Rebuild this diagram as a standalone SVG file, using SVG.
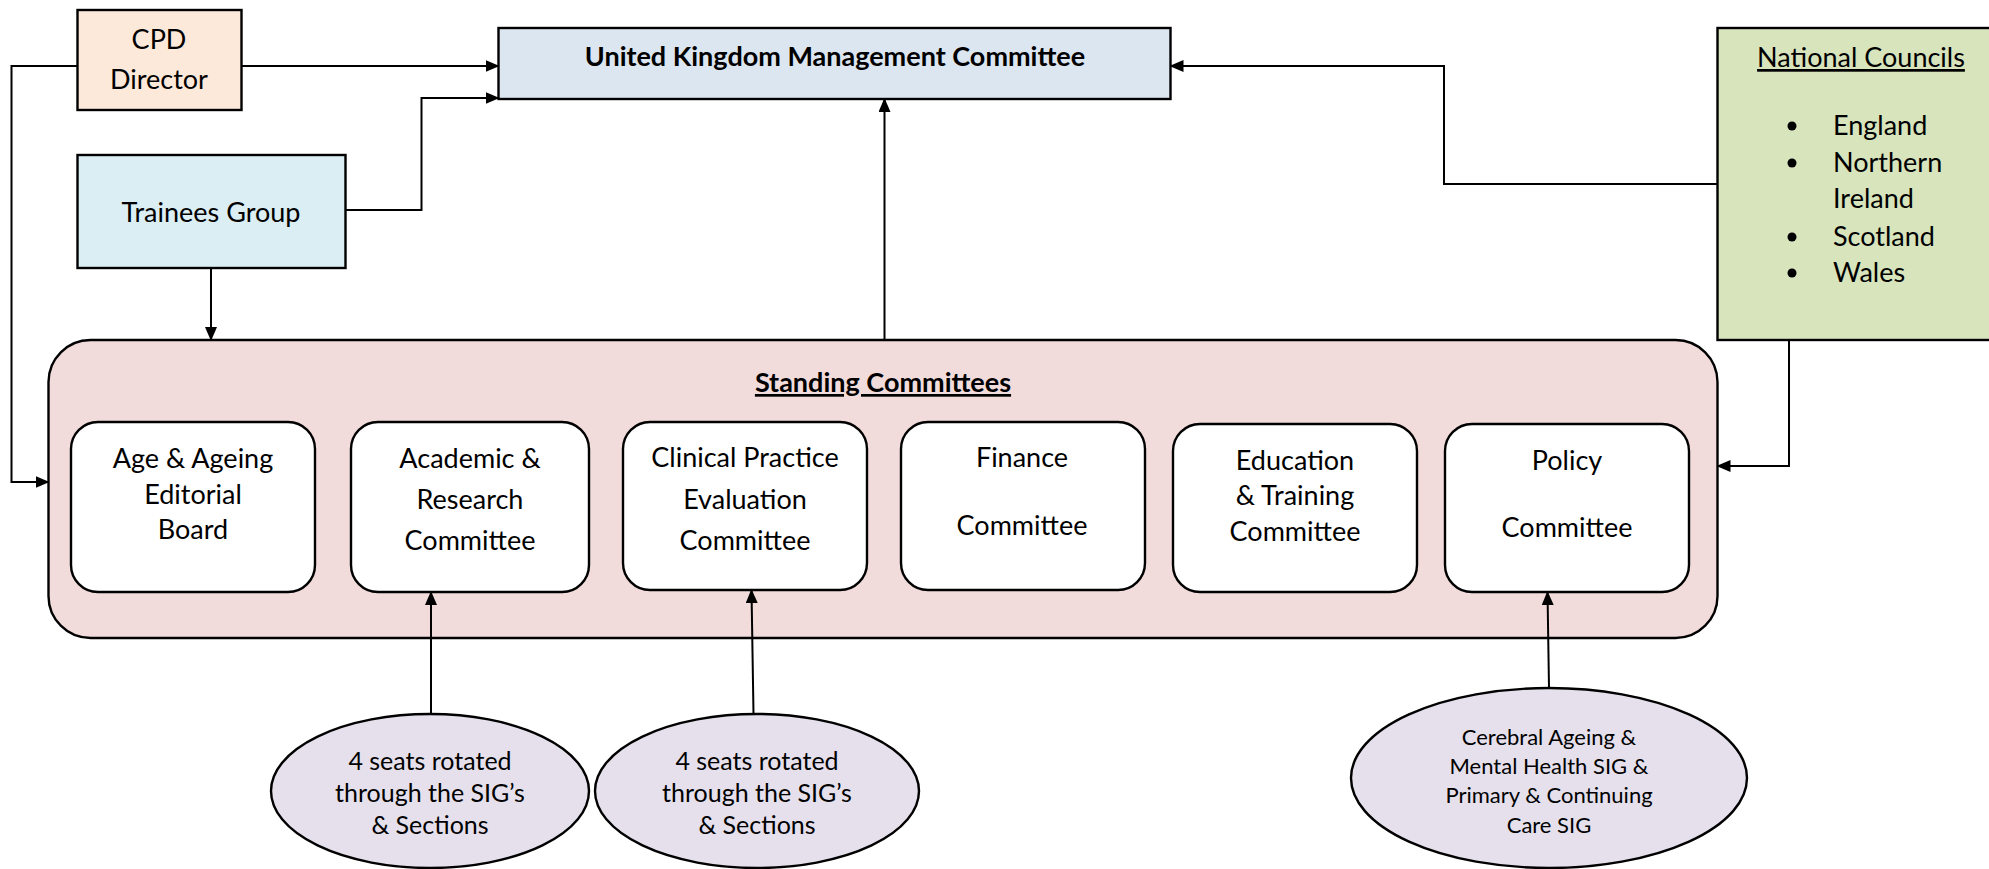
<svg xmlns="http://www.w3.org/2000/svg" width="1989" height="869" viewBox="0 0 1989 869">
  <style>
    .box { stroke: #000; stroke-width: 2.4; }
    .t { font-family: Lato, "Liberation Sans", sans-serif; font-size: 27px; fill: #000; text-anchor: middle; }
    .tl { font-family: Lato, "Liberation Sans", sans-serif; font-size: 27px; fill: #000; }
    .b { font-weight: bold; }
    .u { text-decoration: underline; }
    .s { font-size: 25px; }
    .xs { font-size: 22px; }
    .conn { fill: none; stroke: #000; stroke-width: 2; marker-end: url(#arrow); }
    .plain { fill: none; stroke: #000; stroke-width: 2; }
  </style>
  <defs>
    <marker id="arrow" markerUnits="userSpaceOnUse" markerWidth="14" markerHeight="12" refX="13" refY="6" orient="auto">
      <path d="M0,0 L14,6 L0,12 z" fill="#000"/>
    </marker>
  </defs>
  <rect width="1989" height="869" fill="#fff"/>

  <!-- Standing committees container (drawn first so connectors sit on top) -->
  <g id="standing-committees">
    <rect class="box" x="48.5" y="340" width="1669" height="298" rx="42" ry="42" fill="#F2DCDB"/>
    <text class="t b u" x="883" y="392">Standing Committees</text>
  </g>

  <g id="cpd-director">
    <rect class="box" x="77.5" y="10" width="164" height="100" fill="#FDE9D9"/>
    <text class="t" x="159" y="49">CPD</text>
    <text class="t" x="159" y="89">Director</text>
  </g>

  <g id="trainees-group">
    <rect class="box" x="77.5" y="155" width="268" height="113" fill="#DAEEF3"/>
    <text class="t" x="211" y="222">Trainees Group</text>
  </g>

  <g id="uk-management-committee">
    <rect class="box" x="498.5" y="28" width="672" height="71" fill="#DCE6F1"/>
    <text class="t b" x="835" y="66">United Kingdom Management Committee</text>
  </g>

  <g id="national-councils">
    <rect class="box" x="1717.5" y="28" width="290" height="312" fill="#D7E4BC"/>
    <text class="t u" x="1861" y="67">National Councils</text>
    <g fill="#000">
      <circle cx="1792" cy="126" r="4.5"/>
      <circle cx="1792" cy="163" r="4.5"/>
      <circle cx="1792" cy="237" r="4.5"/>
      <circle cx="1792" cy="273" r="4.5"/>
    </g>
    <text class="tl" x="1833" y="135">England</text>
    <text class="tl" x="1833" y="172">Northern</text>
    <text class="tl" x="1833" y="208">Ireland</text>
    <text class="tl" x="1833" y="246">Scotland</text>
    <text class="tl" x="1833" y="282">Wales</text>
  </g>

  <g id="age-ageing-editorial-board">
    <rect class="box" x="71" y="422" width="244" height="170" rx="27" fill="#fff"/>
    <text class="t" x="193" y="468">Age &amp; Ageing</text>
    <text class="t" x="193" y="504">Editorial</text>
    <text class="t" x="193" y="539">Board</text>
  </g>

  <g id="academic-research-committee">
    <rect class="box" x="351" y="422" width="238" height="170" rx="27" fill="#fff"/>
    <text class="t" x="470" y="468">Academic &amp;</text>
    <text class="t" x="470" y="509">Research</text>
    <text class="t" x="470" y="550">Committee</text>
  </g>

  <g id="clinical-practice-evaluation-committee">
    <rect class="box" x="623" y="422" width="244" height="168" rx="27" fill="#fff"/>
    <text class="t" x="745" y="467">Clinical Practice</text>
    <text class="t" x="745" y="509">Evaluation</text>
    <text class="t" x="745" y="550">Committee</text>
  </g>

  <g id="finance-committee">
    <rect class="box" x="901" y="422" width="244" height="168" rx="27" fill="#fff"/>
    <text class="t" x="1022" y="467">Finance</text>
    <text class="t" x="1022" y="535">Committee</text>
  </g>

  <g id="education-training-committee">
    <rect class="box" x="1173" y="424" width="244" height="168" rx="27" fill="#fff"/>
    <text class="t" x="1295" y="470">Education</text>
    <text class="t" x="1295" y="505">&amp; Training</text>
    <text class="t" x="1295" y="541">Committee</text>
  </g>

  <g id="policy-committee">
    <rect class="box" x="1445" y="424" width="244" height="168" rx="27" fill="#fff"/>
    <text class="t" x="1567" y="470">Policy</text>
    <text class="t" x="1567" y="537">Committee</text>
  </g>

  <g id="sig-seats-academic">
    <ellipse class="box" cx="430" cy="791" rx="159" ry="77" fill="#E5E0EC"/>
    <text class="t s" x="430" y="770">4 seats rotated</text>
    <text class="t s" x="430" y="802">through the SIG’s</text>
    <text class="t s" x="430" y="834">&amp; Sections</text>
  </g>

  <g id="sig-seats-clinical">
    <ellipse class="box" cx="757" cy="791" rx="162" ry="77" fill="#E5E0EC"/>
    <text class="t s" x="757" y="770">4 seats rotated</text>
    <text class="t s" x="757" y="802">through the SIG’s</text>
    <text class="t s" x="757" y="834">&amp; Sections</text>
  </g>

  <g id="sig-cerebral-primary">
    <ellipse class="box" cx="1549" cy="778" rx="198" ry="90" fill="#E5E0EC"/>
    <text class="t xs" x="1549" y="745">Cerebral Ageing &amp;</text>
    <text class="t xs" x="1549" y="774">Mental Health SIG &amp;</text>
    <text class="t xs" x="1549" y="803">Primary &amp; Continuing</text>
    <text class="t xs" x="1549" y="833">Care SIG</text>
  </g>

  <g id="connectors">
    <path class="conn" d="M77.5,66 H11.5 V482 H48.5"/>
    <path class="conn" d="M241.5,66 H498.5"/>
    <path class="conn" d="M345.5,210 H421.5 V98 H498.5"/>
    <path class="conn" d="M211,268 V340"/>
    <path class="conn" d="M884.5,340 V99"/>
    <path class="conn" d="M1717.5,184 H1444 V66 H1170.5"/>
    <path class="conn" d="M1789,340 V466 H1717.5"/>
    <path class="conn" d="M431,714 V592"/>
    <path class="conn" d="M753.5,714 L751.5,590"/>
    <path class="conn" d="M1549,688 L1547.5,592"/>
  </g>
</svg>
